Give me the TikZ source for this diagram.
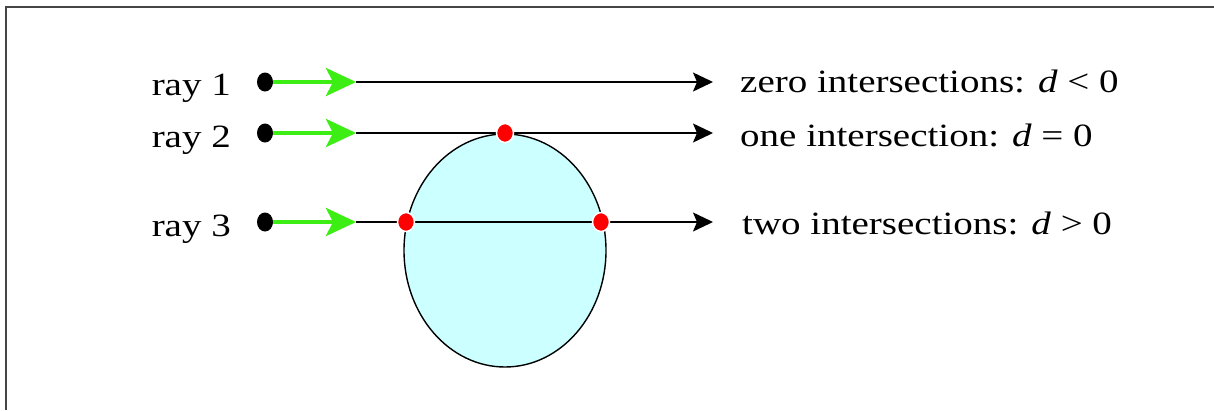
\documentclass[tikz,border=0pt]{standalone}
\usepackage{fontspec}
\setmainfont[FakeStretch=1.2]{Liberation Serif}
\usetikzlibrary{arrows.meta,shapes.geometric}
\definecolor{raygreen}{RGB}{60,238,20}
\definecolor{spherefill}{RGB}{204,255,255}
\definecolor{framegray}{RGB}{70,70,70}
\tikzset{
  blackdot/.style={ellipse,fill=black,minimum width=16pt,minimum height=19pt,inner sep=0pt},
  reddot/.style={ellipse,fill=red,draw=white,line width=1.5pt,minimum width=17pt,minimum height=19pt,inner sep=0pt},
  greenarrow/.style={draw=raygreen,line width=4.5pt,-{Stealth[length=30pt,width=28pt,inset=7pt]}},
  rayline/.style={draw=black,line width=1.4pt,-{Stealth[length=20pt,width=19pt,inset=4pt]}},
  raylabel/.style={anchor=base east,inner sep=0pt,font=\fontsize{32.5}{38}\selectfont},
  caselabel/.style={anchor=base west,inner sep=0pt,font=\fontsize{32.5}{38}\selectfont},
  sphere/.style={ellipse,draw=black,line width=1.4pt,fill=spherefill,minimum width=202pt,minimum height=233pt,inner sep=0pt},
}
\begin{document}
\begin{tikzpicture}[x=1pt,y=-1pt]
\useasboundingbox (0,0) rectangle (1214,410);
% frame
\draw[framegray,line width=2.4pt] (6,410) -- (6,7) -- (1214,7);
% sphere
\node[sphere] (ball) at (505,250.5) {};
% start dots
\node[blackdot] (s1) at (265,82) {};
\node[blackdot] (s2) at (265,133) {};
\node[blackdot] (s3) at (265,222) {};
% ends of green arrows and rays
\coordinate (g1) at (356,82);
\coordinate (g2) at (356,133);
\coordinate (g3) at (356,222);
\coordinate (e1) at (713,82);
\coordinate (e2) at (713,133);
\coordinate (e3) at (713,222);
% rays
\draw[rayline] (g1) -- (e1);
\draw[rayline] (g2) -- (e2);
\draw[rayline] (g3) -- (e3);
\draw[greenarrow] (s1.east) -- (g1);
\draw[greenarrow] (s2.east) -- (g2);
\draw[greenarrow] (s3.east) -- (g3);
% intersection points
\node[reddot] (p1) at (505,133) {};
\node[reddot] (p2) at (406,222) {};
\node[reddot] (p3) at (601,222) {};
% labels
\node[raylabel] (l1) at (231,95) {ray 1};
\node[raylabel] (l2) at (231,147) {ray 2};
\node[raylabel] (l3) at (231,236) {ray 3};
\node[caselabel] (c1) at (740,92) {zero intersections: \textit{d} < 0};
\node[caselabel] (c2) at (740,146) {one intersection: \textit{d} = 0};
\node[caselabel] (c3) at (742,234) {two intersections: \textit{d} > 0};
\end{tikzpicture}
\end{document}
